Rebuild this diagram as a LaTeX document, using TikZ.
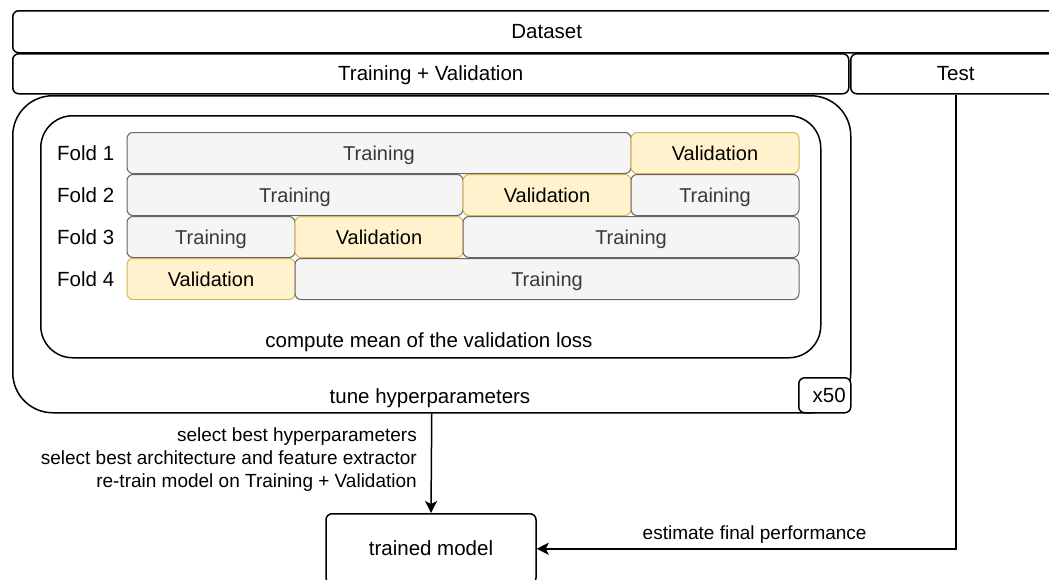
\documentclass[tikz,border=0pt]{standalone}
\usepackage{fontspec}
\setmainfont{Liberation Sans}
\usetikzlibrary{arrows.meta,positioning}
\definecolor{trnfill}{HTML}{F5F5F5}
\definecolor{trnline}{HTML}{666666}
\definecolor{valfill}{HTML}{FFF2CC}
\definecolor{valline}{HTML}{D6B656}

\begin{document}
\begin{tikzpicture}[x=1pt,y=-1pt,
  block/.style={rectangle,draw=black,line width=1.5pt,rounded corners=6pt,
                font=\fontsize{20.5}{24}\selectfont,inner sep=0pt,
                text height=16pt,text depth=2pt},
  trn/.style={rectangle,fill=trnfill,draw=trnline,line width=1pt,
              rounded corners=6pt,text=black!78,minimum height=41pt,
              font=\fontsize{20}{24}\selectfont,inner sep=0pt,
              text height=16pt,text depth=2pt},
  val/.style={trn,fill=valfill,draw=valline,text=black},
  lbl/.style={font=\fontsize{20.5}{24}\selectfont,inner sep=0pt,
              text height=16pt,text depth=2pt},
  note/.style={font=\fontsize{19}{23}\selectfont,inner sep=0pt},
  arr/.style={line width=1.5pt,-{Stealth[length=12pt,width=12pt,inset=3pt]}}]

  \useasboundingbox (0,0) rectangle (1049,579);

  % data split
  \node (data) [block,minimum width=1068pt,minimum height=42pt,anchor=north west]
    at (12,10) {Dataset};
  \node (trval) [block,minimum width=836pt,minimum height=40pt,anchor=north west]
    at (12,53) {Training + Validation};
  \node (test) [block,minimum width=210pt,minimum height=40pt,anchor=north west]
    at (850,53) {Test};

  % hyperparameter loop and cross-validation
  \node (tune) [block,rounded corners=40pt,minimum width=838pt,minimum height=317pt,
    anchor=north west] at (12,95) {};
  \node (cv) [block,rounded corners=32pt,minimum width=780pt,minimum height=242pt,
    anchor=north west] at (40,115) {};
  \node (rep) [block,fill=white,minimum width=52pt,minimum height=35pt,
    text width=42pt,align=right,anchor=south east] at (tune.south east) {x50};
  \node (cvlbl) [lbl] at (429,340) {compute mean of the validation loss};
  \node (tunelbl) [lbl] at (430,396) {tune hyperparameters};

  % folds
  \foreach \r in {1,...,4}
    \node (fold\r) [lbl,anchor=west] at (57,{111+42*\r}) {Fold \r};

  \foreach \r/\a/\b/\kind/\txt in {1/0/3/trn/Training, 1/3/4/val/Validation,
      2/0/2/trn/Training, 2/2/3/val/Validation, 2/3/4/trn/Training,
      3/0/1/trn/Training, 3/1/2/val/Validation, 3/2/4/trn/Training,
      4/0/1/val/Validation, 4/1/4/trn/Training}
    \node (f\r\a) [\kind,minimum width={(\b-\a)*168pt}]
      at ({127+84*(\a+\b)},{111+42*\r}) {\txt};

  % final model
  \node (model) [block,minimum width=210pt,minimum height=70pt,anchor=north]
    at (431,513) {trained model};

  \draw[arr] (tune.south) -- (model.north);
  \node (steps) [note,align=right,anchor=east] at (417,460)
    {select best hyperparameters\\select best architecture and feature extractor\\
     re-train model on Training + Validation};

  \draw[arr] (test.south) |- (model.east)
    node[note,pos=0.74,above=5pt] {estimate final performance};
\end{tikzpicture}
\end{document}
